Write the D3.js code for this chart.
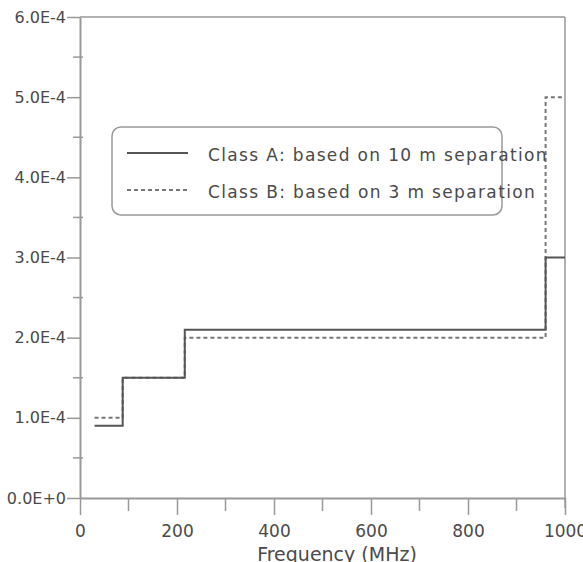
<!DOCTYPE html>
<html>
<head>
<meta charset="utf-8">
<script src="https://cdn.jsdelivr.net/npm/d3@7"></script>
<style>
  body { margin: 0; background: #fff; }
  text { font-family: "DejaVu Sans", sans-serif; fill: #4a4a4a; }
</style>
</head>
<body>
<div id="chart"></div>
<script>
// breakpoints in MHz (last one closes the final step)
var freqs = [30, 88, 216, 960, 1000];
var classA = [0.9e-4, 1.5e-4, 2.1e-4, 3.0e-4, 3.0e-4];
var classB = [1.0e-4, 1.5e-4, 2.0e-4, 5.0e-4, 5.0e-4];
var xTicks = [0, 200, 400, 600, 800, 1000];
var xMinor = [100, 300, 500, 700, 900];
var yTicks = [0, 1e-4, 2e-4, 3e-4, 4e-4, 5e-4, 6e-4];
var yMinor = [0.5e-4, 1.5e-4, 2.5e-4, 3.5e-4, 4.5e-4, 5.5e-4];
var legendLabels = ["Class A: based on 10 m separation", "Class B: based on 3 m separation"];

var width = 583, height = 562;
var mLeft = 80, mRight = 565, mTop = 17, mBottom = 498;

var x = d3.scaleLinear().domain([0, 1000]).range([mLeft, mRight]);
var y = d3.scaleLinear().domain([0, 6e-4]).range([mBottom, mTop]);

var svg = d3.select("#chart").append("svg")
    .attr("width", width)
    .attr("height", height);

var axisColor = "#999";

// frame top and right
svg.append("line").attr("x1", mLeft).attr("x2", mRight).attr("y1", mTop).attr("y2", mTop)
    .attr("stroke", axisColor).attr("stroke-width", 1.5);
svg.append("line").attr("x1", mRight).attr("x2", mRight).attr("y1", mTop).attr("y2", mBottom + 10)
    .attr("stroke", axisColor).attr("stroke-width", 1.5);

function fmt(d) {
    if (d === 0) return "0.0E+0";
    return (d / 1e-4).toFixed(1) + "E-4";
}

// y axis
var yAxis = svg.append("g").attr("transform", "translate(" + mLeft + ",0)")
    .call(d3.axisLeft(y).tickValues(yTicks).tickSize(13).tickFormat(fmt).tickSizeOuter(0));
yAxis.selectAll(".tick text").attr("x", -14).style("font-size", "16px");
svg.append("g").selectAll("line").data(yMinor).enter().append("line")
    .attr("x1", mLeft - 7).attr("x2", mLeft + 3)
    .attr("y1", function (d) { return y(d); }).attr("y2", function (d) { return y(d); })
    .attr("stroke", axisColor).attr("stroke-width", 1.5);

// x axis
var xAxis = svg.append("g").attr("transform", "translate(0," + mBottom + ")")
    .call(d3.axisBottom(x).tickValues(xTicks).tickSize(17).tickFormat(d3.format("d")).tickSizeOuter(0));
xAxis.selectAll(".tick text").attr("y", 27).style("font-size", "17px");
svg.append("g").selectAll("line").data(xMinor).enter().append("line")
    .attr("x1", function (d) { return x(d); }).attr("x2", function (d) { return x(d); })
    .attr("y1", mBottom).attr("y2", mBottom + 13)
    .attr("stroke", axisColor).attr("stroke-width", 1.5);

svg.selectAll(".domain").attr("stroke", axisColor).attr("stroke-width", 2);
svg.selectAll(".tick line").attr("stroke", axisColor).attr("stroke-width", 1.5);
svg.selectAll(".tick text").attr("fill", "#4a4a4a").style("font-family", "DejaVu Sans");

svg.append("text")
    .attr("x", 337).attr("y", 561)
    .attr("text-anchor", "middle")
    .style("font-size", "19px")
    .text("Frequency (MHz)");

// step lines
var line = d3.line()
    .x(function (d) { return x(d[0]); })
    .y(function (d) { return y(d[1]); })
    .curve(d3.curveStepAfter);

svg.append("path")
    .datum(d3.zip(freqs, classB))
    .attr("d", line)
    .attr("fill", "none")
    .attr("stroke", "#777")
    .attr("stroke-width", 2)
    .attr("stroke-dasharray", "4,3");

svg.append("path")
    .datum(d3.zip(freqs, classA))
    .attr("d", line)
    .attr("fill", "none")
    .attr("stroke", "#555")
    .attr("stroke-width", 2);

// legend
var legend = svg.append("g");
legend.append("rect")
    .attr("x", 112).attr("y", 127)
    .attr("width", 390).attr("height", 88)
    .attr("rx", 9)
    .attr("fill", "#fff")
    .attr("stroke", "#999")
    .attr("stroke-width", 1.5);

legend.selectAll("line").data(legendLabels).enter().append("line")
    .attr("x1", 127).attr("x2", 188)
    .attr("y1", function (d, i) { return 153 + i * 37; })
    .attr("y2", function (d, i) { return 153 + i * 37; })
    .attr("stroke", function (d, i) { return i ? "#777" : "#555"; })
    .attr("stroke-width", 2)
    .attr("stroke-dasharray", function (d, i) { return i ? "4,3" : null; });

legend.selectAll("text").data(legendLabels).enter().append("text")
    .attr("x", 208)
    .attr("y", function (d, i) { return 155 + i * 37; })
    .attr("dy", "0.35em")
    .style("font-size", "17px")
    .style("letter-spacing", "1.35px")
    .text(function (d) { return d; });
</script>
</body>
</html>
